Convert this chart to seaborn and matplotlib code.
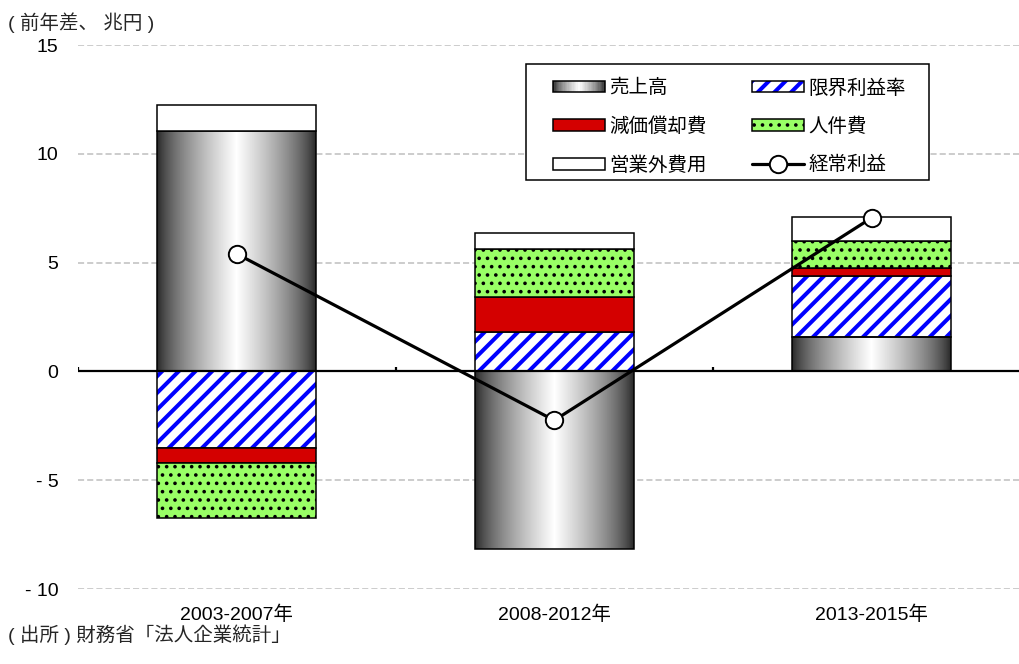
import numpy as np
import matplotlib
matplotlib.use('Agg')
import matplotlib.pyplot as plt
import seaborn as sns
import pandas as pd
from matplotlib.patches import Rectangle
from matplotlib.lines import Line2D
from matplotlib.legend_handler import HandlerBase

# ---------------- data ----------------
categories = ['2003-2007年', '2008-2012年', '2013-2015年']
sales = [11.05, -8.17, 1.57]          # 売上高
marginal = [-3.5, 1.83, 2.83]         # 限界利益率
depreciation = [-0.7, 1.58, 0.34]     # 減価償却費
personnel = [-2.55, 2.23, 1.24]       # 人件費
nonop = [1.2, 0.74, 1.13]             # 営業外費用
ordinary = [5.4, -2.25, 7.06]         # 経常利益
yticks = [-10, -5, 0, 5, 10, 15]
ytick_labels = ['- 10', '- 5', '0', '5', '10', '15']

sns.set_theme(style='white')
plt.rcParams['font.family'] = ['Liberation Sans', 'Noto Sans CJK JP', 'DejaVu Sans']

BLUE = '#0000FF'
RED = '#D40000'
GREEN = '#99FF66'
FS = 14
HATCH_LW_BLUE = 2.9
HATCH_LW_DOT = 1.4


def shade(t):
    """grey level for the cylinder-like gradient (t in 0..1 across the bar)"""
    return 0.13 + 0.87 * (1 - abs(2 * t - 1)) ** 0.7


W, H = 1020, 664
fig = plt.figure(figsize=(W / 100, H / 100), dpi=100)
ax = fig.add_axes([78 / W, 75 / H, 942 / W, 544 / H])
ax.set_xlim(-0.5, -0.5 + 942 / 317.5)
ax.set_ylim(-10, 15)

x = np.arange(len(categories))
bw = 0.5
pos_b = np.zeros(len(x))
neg_b = np.zeros(len(x))


def bottoms(vals):
    global pos_b, neg_b
    v = np.asarray(vals, dtype=float)
    b = np.where(v >= 0, pos_b, neg_b)
    pos_b = pos_b + np.clip(v, 0, None)
    neg_b = neg_b + np.clip(v, None, 0)
    return v, b


def set_hlw(patches, lw):
    for p in patches:
        if hasattr(p, 'set_hatch_linewidth'):
            p.set_hatch_linewidth(lw)


# sales: gradient bars
v, b = bottoms(sales)
bars = ax.bar(x, v, bottom=b, width=bw, facecolor='none', edgecolor='black',
              linewidth=1.1, zorder=3)
grad = np.array([[shade((i + 0.5) / 200) for i in range(200)]])
for r in bars:
    x0, y0 = r.get_x(), r.get_y()
    w, h = r.get_width(), r.get_height()
    im = ax.imshow(grad, cmap='gray', vmin=0, vmax=1, aspect='auto',
                   extent=[x0, x0 + w, min(y0, y0 + h), max(y0, y0 + h)],
                   interpolation='bilinear', zorder=2)
    im.set_clip_path(r)

# marginal: blue hatched
v, b = bottoms(marginal)
with plt.rc_context({'hatch.linewidth': HATCH_LW_BLUE}):
    hb = ax.bar(x, v, bottom=b, width=bw, facecolor='white', edgecolor=BLUE,
                hatch='//', linewidth=0, zorder=2)
set_hlw(hb, HATCH_LW_BLUE)
ax.bar(x, v, bottom=b, width=bw, fill=False, edgecolor='black', linewidth=1.1, zorder=3)

# depreciation: red
v, b = bottoms(depreciation)
ax.bar(x, v, bottom=b, width=bw, facecolor=RED, edgecolor='black', linewidth=1.1, zorder=3)

# personnel: green dotted
v, b = bottoms(personnel)
with plt.rc_context({'hatch.linewidth': HATCH_LW_DOT}):
    gb = ax.bar(x, v, bottom=b, width=bw, facecolor=GREEN, edgecolor='black',
                hatch='..', linewidth=1.1, zorder=3)
set_hlw(gb, HATCH_LW_DOT)

# non operating: white
v, b = bottoms(nonop)
ax.bar(x, v, bottom=b, width=bw, facecolor='white', edgecolor='black', linewidth=1.1, zorder=3)

# zero line and category separators
ax.axhline(0, color='black', linewidth=1.6, zorder=4)
ax.vlines([-0.5, 0.5, 1.5], 0, 0.2, color='black', linewidth=1.6, zorder=4)

# ordinary profit line
df = pd.DataFrame({'x': x, 'y': ordinary})
sns.lineplot(data=df, x='x', y='y', ax=ax, color='black', linewidth=2.3,
             marker='o', markersize=12.5, markerfacecolor='white',
             markeredgecolor='black', markeredgewidth=1.4, zorder=6, legend=False)

# axes styling
for s in ax.spines.values():
    s.set_visible(False)
ax.set_yticks(yticks)
ax.set_yticklabels(ytick_labels, fontsize=FS, color='black')
ax.set_xticks(x)
ax.set_xticklabels(categories, fontsize=FS, color='black')
ax.tick_params(axis='y', length=0, pad=14)
ax.tick_params(axis='x', length=0, pad=12)
ax.set_xlabel('')
ax.set_ylabel('')
ax.yaxis.grid(True, color='#BFBFBF', linestyle=(0, (4, 2)), linewidth=1.1)
ax.xaxis.grid(False)
ax.set_axisbelow(True)
ax.set_xlim(-0.5, -0.5 + 942 / 317.5)
ax.set_ylim(-10, 15)


# ---------------- legend ----------------
class HandlerGradient(HandlerBase):
    def create_artists(self, legend, orig_handle, xdescent, ydescent, width,
                       height, fontsize, trans):
        arts = []
        n = 40
        for i in range(n):
            g = shade((i + 0.5) / n)
            arts.append(Rectangle((-xdescent + width * i / n, -ydescent),
                                  width / n * 1.1, height, facecolor=(g, g, g),
                                  edgecolor='none', transform=trans))
        arts.append(Rectangle((-xdescent, -ydescent), width, height, fill=False,
                              edgecolor='black', linewidth=1.1, transform=trans))
        return arts


class HandlerHatch(HandlerBase):
    def create_artists(self, legend, orig_handle, xdescent, ydescent, width,
                       height, fontsize, trans):
        with plt.rc_context({'hatch.linewidth': HATCH_LW_BLUE}):
            r = Rectangle((-xdescent, -ydescent), width, height, facecolor='white',
                          edgecolor=BLUE, hatch='//', linewidth=0, transform=trans)
        set_hlw([r], HATCH_LW_BLUE)
        b = Rectangle((-xdescent, -ydescent), width, height, fill=False,
                      edgecolor='black', linewidth=1.1, transform=trans)
        return [r, b]


class HandlerDots(HandlerBase):
    def create_artists(self, legend, orig_handle, xdescent, ydescent, width,
                       height, fontsize, trans):
        with plt.rc_context({'hatch.linewidth': HATCH_LW_DOT}):
            r = Rectangle((-xdescent, -ydescent), width, height, facecolor=GREEN,
                          edgecolor='black', hatch='..', linewidth=1.1, transform=trans)
        set_hlw([r], HATCH_LW_DOT)
        return [r]


# legend frame drawn as a figure rectangle
fig.add_artist(Rectangle((526 / W, 1 - 180 / H), 403 / W, 116 / H,
                         transform=fig.transFigure, facecolor='white',
                         edgecolor='black', linewidth=1.1, zorder=4))

h_sales = Rectangle((0, 0), 1, 1)
h_marg = Rectangle((0, 0), 1, 1)
h_per = Rectangle((0, 0), 1, 1)
h_dep = Rectangle((0, 0), 1, 1, facecolor=RED, edgecolor='black', linewidth=1.1)
h_non = Rectangle((0, 0), 1, 1, facecolor='white', edgecolor='black', linewidth=1.1)
h_ord = Line2D([], [], color='black', linewidth=2.3, marker='o', markersize=12.5,
               markerfacecolor='white', markeredgecolor='black', markeredgewidth=1.4)

handles = [h_sales, h_dep, h_non, h_marg, h_per, h_ord]
labels = ['売上高', '減価償却費', '営業外費用', '限界利益率', '人件費', '経常利益']
leg = fig.legend(handles, labels, loc='upper left',
                 bbox_to_anchor=(553 / W, 1 - 79 / H), ncol=2, fontsize=FS,
                 frameon=False, borderaxespad=0, borderpad=0,
                 handlelength=2.67, handleheight=0.55,
                 handletextpad=0.2, columnspacing=2.37, labelspacing=1.03,
                 handler_map={h_sales: HandlerGradient(), h_marg: HandlerHatch(),
                              h_per: HandlerDots()})
leg.set_zorder(5)
for t in leg.get_texts():
    t.set_color('black')

# ---------------- texts ----------------
fig.text(8 / W, 1 - 23 / H, '( 前年差、 兆円 )', fontsize=FS, va='center', ha='left')
fig.text(8 / W, 1 - 635 / H, '( 出所 ) 財務省「法人企業統計」', fontsize=FS, va='center', ha='left')

fig.savefig('out.png', dpi=100)
